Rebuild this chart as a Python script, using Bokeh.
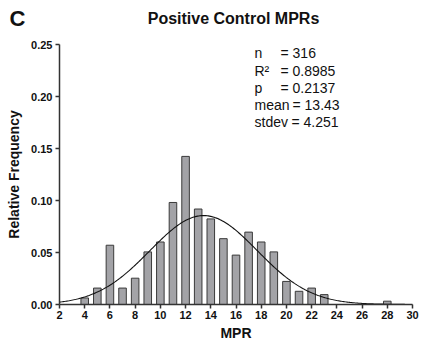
import numpy as np
from bokeh.plotting import figure
from bokeh.models import Label, FixedTicker, PrintfTickFormatter, ColumnDataSource
from bokeh.embed import file_html
from bokeh.resources import INLINE

# ---- data ----
mpr = [4, 5, 6, 7, 8, 9, 10, 11, 12, 13, 14, 15, 16, 17, 18, 19, 20, 21, 22, 23, 28]
rel_freq = [0.0063, 0.0158, 0.0570, 0.0158, 0.0253, 0.0506, 0.0601, 0.0981, 0.1424,
            0.0918, 0.0823, 0.0633, 0.0475, 0.0696, 0.0601, 0.0506, 0.0222, 0.0127,
            0.0158, 0.0095, 0.0032]
fit_mean = 13.43
fit_sd = 4.251
fit_peak = 0.0855
title_text = "Positive Control MPRs"
panel_letter = "C"
stat_names = ["n", "R²", "p", "mean", "stdev"]
stat_values = ["= 316", "= 0.8985", "= 0.2137", "= 13.43", "= 4.251"]
x_ticks = list(range(2, 31, 2))
y_ticks = [0.0, 0.05, 0.10, 0.15, 0.20, 0.25]

FONT = "Liberation Sans"

p = figure(width=421, height=343, x_range=(2, 30), y_range=(0, 0.25),
           output_backend="svg", toolbar_location=None,
           min_border_left=59, min_border_right=9, min_border_top=44, min_border_bottom=38)
p.title.visible = False
p.outline_line_color = None
p.xgrid.visible = False
p.ygrid.visible = False
p.background_fill_color = "white"
p.border_fill_color = "white"

src = ColumnDataSource(dict(x=mpr, top=rel_freq))
p.vbar(x="x", top="top", bottom=0, width=0.6, source=src,
       fill_color="#a3a3a7", line_color="#3a3a3a", line_width=1)

xs = np.linspace(2, 30, 300)
ys = fit_peak * np.exp(-0.5 * ((xs - fit_mean) / fit_sd) ** 2)
p.line(xs, ys, line_color="#111111", line_width=1.1)

for ax in (p.xaxis, p.yaxis):
    ax.axis_line_color = "#333333"
    ax.axis_line_width = 1.5
    ax.major_tick_line_color = "#333333"
    ax.major_tick_line_width = 1.5
    ax.major_tick_in = 0
    ax.major_tick_out = 4
    ax.minor_tick_line_color = None
    ax.major_label_text_font = FONT
    ax.major_label_text_font_style = "bold"
    ax.major_label_text_font_size = "11px"
    ax.major_label_text_color = "#111111"
    ax.axis_label_text_font = FONT
    ax.axis_label_text_font_style = "bold"
    ax.axis_label_text_font_size = "14px"
    ax.axis_label_text_color = "#111111"

p.xaxis.ticker = FixedTicker(ticks=x_ticks)
p.yaxis.ticker = FixedTicker(ticks=y_ticks)
p.yaxis.formatter = PrintfTickFormatter(format="%.2f")
p.xaxis.axis_label = "MPR"
p.yaxis.axis_label = "Relative Frequency"
p.xaxis.major_label_standoff = 2
p.yaxis.major_label_standoff = 3
p.xaxis.axis_label_standoff = 3
p.yaxis.axis_label_standoff = 6

# panel letter and title, placed in the top side panel so they are not clipped to the frame
p.add_layout(Label(x=2, y=0.25, x_offset=-50, y_offset=26, text=panel_letter,
                   text_font=FONT, text_font_style="bold", text_font_size="22px",
                   text_baseline="middle", text_align="left", text_color="#111111"),
             "above")
p.add_layout(Label(x=2, y=0.25, x_offset=174, y_offset=26, text=title_text,
                   text_font=FONT, text_font_style="bold", text_font_size="16px",
                   text_baseline="middle", text_align="center", text_color="#111111"),
             "above")

row_y = [52, 70, 87, 104, 121]
val_x = [221, 221, 221, 233, 232]
for name, val, ry, vx in zip(stat_names, stat_values, row_y, val_x):
    p.add_layout(Label(x=2, y=0.25, x_offset=195, y_offset=44 - ry, text=name,
                       text_font=FONT, text_font_size="14px", text_baseline="middle",
                       text_align="left", text_color="#111111"))
    p.add_layout(Label(x=2, y=0.25, x_offset=vx, y_offset=44 - ry, text=val,
                       text_font=FONT, text_font_size="14px", text_baseline="middle",
                       text_align="left", text_color="#111111"))

open("out.html", "w").write(file_html(p, INLINE))
